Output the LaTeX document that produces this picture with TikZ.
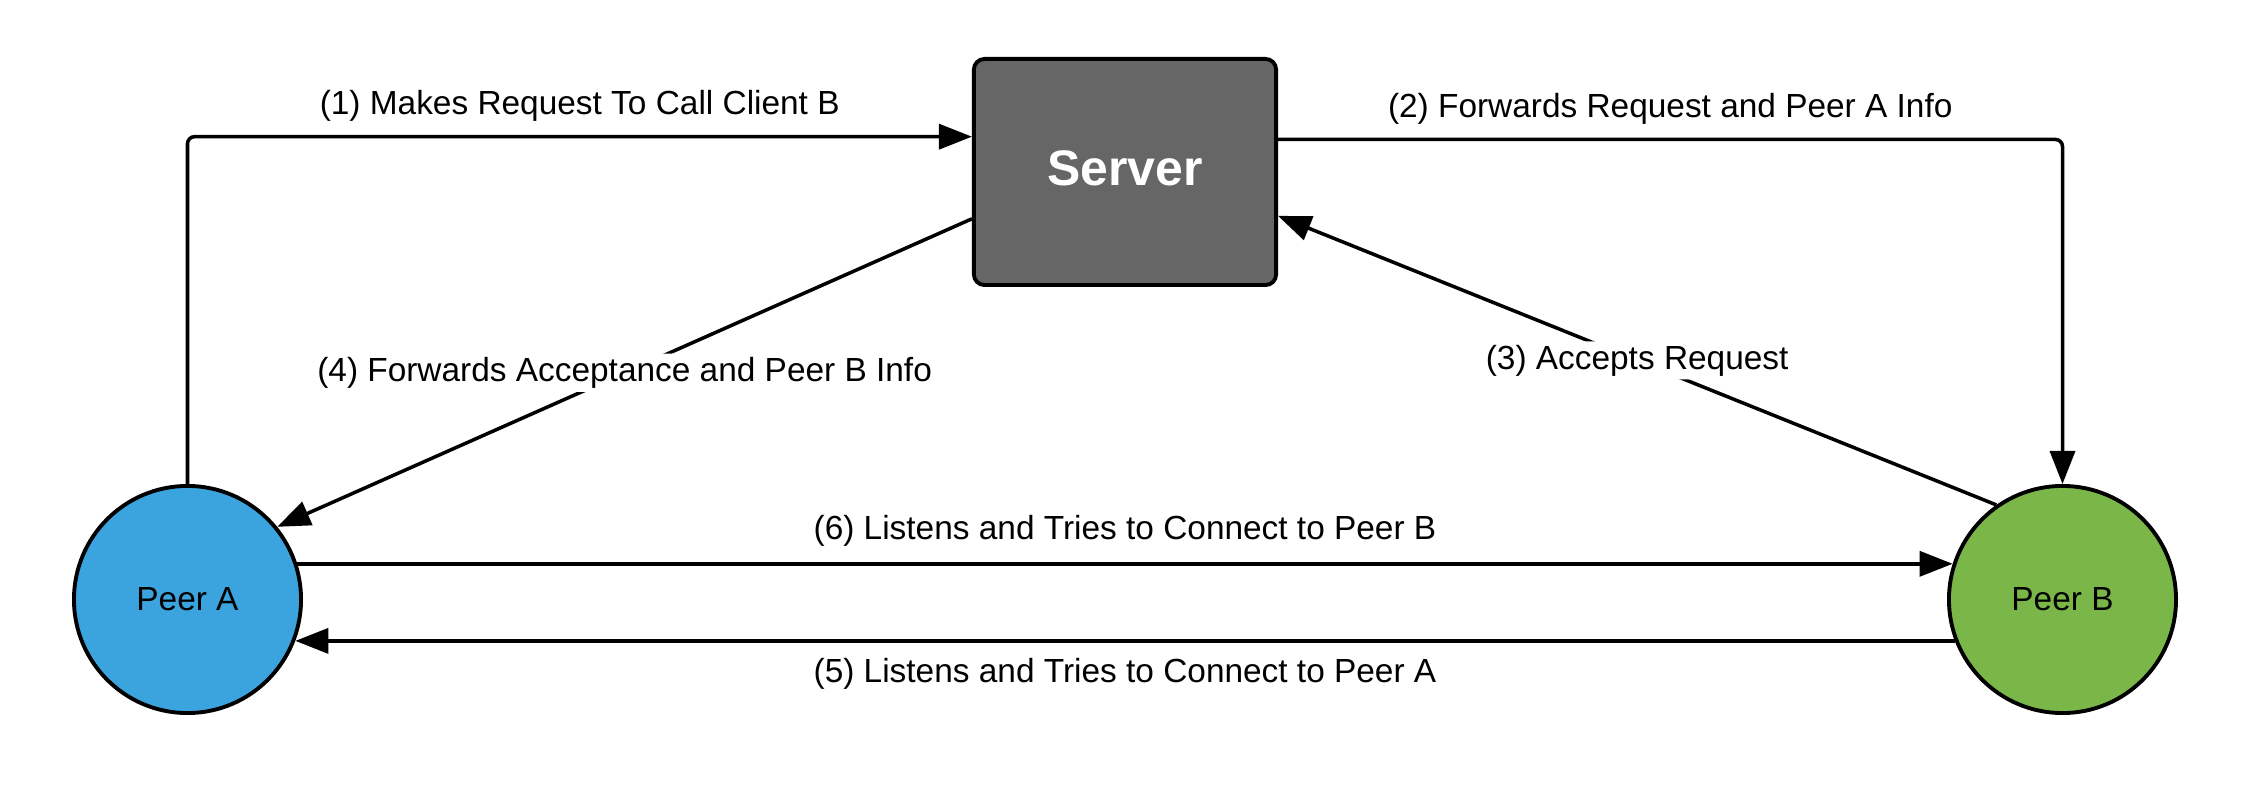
\documentclass[tikz,border=0pt]{standalone}
\usepackage{fontspec}
\setmainfont{Liberation Sans}
\usetikzlibrary{arrows.meta,positioning}
\definecolor{peerblue}{RGB}{59,163,221}
\definecolor{peergreen}{RGB}{122,182,72}
\definecolor{servergray}{RGB}{102,102,102}
\tikzset{
  serverbox/.style = {draw, line width=1.1pt, fill=servergray, text=white,
                      minimum width=3.02cm, minimum height=2.26cm,
                      rounded corners=3pt, font=\fontsize{14.2}{17}\selectfont\bfseries},
  peer/.style      = {circle, draw, line width=1.1pt, minimum size=2.27cm, inner sep=0pt,
                      font=\fontsize{9.5}{11.4}\selectfont},
  link/.style      = {line width=1pt, rounded corners=2pt,
                      -{Triangle[length=3.3mm, width=2.5mm]}},
  lbl/.style       = {font=\fontsize{9.5}{11.4}\selectfont},
  cut/.style       = {lbl, fill=white, inner sep=1pt},
}

\begin{document}
\begin{tikzpicture}[x=0.01cm,y=-0.01cm]
  \useasboundingbox (0,0) rectangle (2250,788);
  \node[serverbox] (server) at (1125,172) {\raisebox{0.07cm}{Server}};
  \node[peer, fill=peerblue] (peerA) at (187.5,599.5) {Peer A};
  \node[peer, fill=peergreen] (peerB) at (2062.5,599.5) {Peer B};
  % requests through the server
  \draw[link] (peerA.north) |- (server.167)
    node[lbl, pos=0.75, above=0.5pt] {(1) Makes Request To Call Client B};
  \draw[link] (server.12) -| (peerB.north)
    node[lbl, pos=0.25, above=0.5pt] {(2) Forwards Request and Peer A Info};
  \draw[link] (peerB.125) -- (server.-16)
    node[cut, midway] {(3) Accepts Request};
  \draw[link] (server.197) -- (peerA.39)
    node[cut, midway] {(4) Forwards Acceptance and Peer B Info};
  % direct connection
  \draw[link] (peerB.-159) -- (peerA.-21)
    node[lbl, midway, below=1pt] {(5) Listens and Tries to Connect to Peer A};
  \draw[link] (peerA.18) -- (peerB.162)
    node[lbl, midway, above=1pt] {(6) Listens and Tries to Connect to Peer B};
\end{tikzpicture}
\end{document}
